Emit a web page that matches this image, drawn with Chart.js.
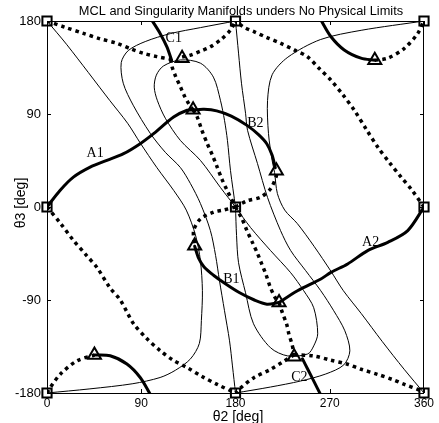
<!DOCTYPE html>
<html><head><meta charset="utf-8">
<script src="https://cdn.jsdelivr.net/npm/chart.js@4/dist/chart.umd.min.js"></script>
<style>html,body{margin:0;padding:0;background:#fff}canvas{display:block}</style>
</head><body>
<canvas id="c" width="439" height="423"></canvas>
<script>
const titleText = 'MCL and Singularity Manifolds unders No Physical Limits';
const xTitle = 'θ2 [deg]';
const yTitle = 'θ3 [deg]';
const xTicks = [0, 90, 180, 270, 360];
const yTicks = [-180, -90, 0, 90, 180];

// Marker points
const squares = [[0,180],[180,180],[360,180],[0,0],[180,0],[360,0],[0,-180],[180,-180],[360,-180]];
const triangles = [[129,144],[139.5,94],[219,35],[313,142],[141,-37.4],[221.6,-92.4],[236,-145],[45.3,-143.2]];

// Curve labels
const curveLabels = ['A1','A2','B1','B2','C1','C2'];
const labelX = [46, 309, 176, 199, 121, 241];
const labelY = [52, -34, -70, 81, 163, -165];

// Thin contour curves
const thinL1 = [[0,180],[19,157],[60,103],[77,81],[89,62],[105,38],[121,16],[133,-3],[142,-28],[146.5,-52],[148.4,-81],[147.4,-110],[145.5,-132],[137,-147],[122.6,-158],[108,-165],[82,-171],[41,-176],[0,-180]];
const thinL1b = [[360,180],[300,171],[261,162],[230,145],[215,128],[210.6,103],[211.5,71],[215,45],[217.3,33.5],[220,13],[227,-3],[239,-16],[255,-38],[271,-62],[283,-81],[300,-103],[320,-130],[341,-157],[360,-180]];
const thinL2 = [[180,180],[146.5,173.6],[117.8,167.8],[93.8,160.1],[77.6,151.4],[70.9,139.8],[72.8,119.8],[82.3,98.5],[98.6,71.3],[113,52.9],[127.3,38.3],[136.9,22.8],[146.5,3.4],[156,-22.8],[161,-47],[164.7,-71.3],[169.5,-100.4],[174.3,-129.5],[177.1,-153.8],[180,-180]];
const thinL2b = [[180,180],[182.9,148.9],[185.7,119.8],[189.6,90.7],[191.5,74.2],[201,42],[210.6,9.2],[223,-22.8],[232.7,-42.2],[247,-61.6],[261.4,-81],[273.8,-100.4],[284.4,-119.8],[289.2,-139.2],[283.4,-152.8],[266.2,-161.6],[242.2,-168.4],[213.5,-174.2],[180,-180]];
const thinL3a = [[180,0],[165.6,18.9],[146.5,45.1],[127.3,64.5],[113,85.9],[105.3,103.3],[102.4,116],[104.4,127.6],[111.1,136.4],[127.3,142.3],[146.5,139.2],[158.9,125.7],[165.6,103.3],[169.5,83.9],[172.3,64.5],[175.2,35.4],[180,0]];
const thinL3b = [[180,0],[194.4,-19.9],[213.5,-42.2],[232.7,-63.6],[245.1,-81],[254.7,-97.5],[258.5,-122.7],[254.7,-134.4],[249,-142.2],[229.8,-144.1],[213.5,-136.3],[197.2,-113],[189.6,-83],[182.9,-53.9],[181,-27.7],[180,0]];

// Thick solid curves
const thickA1 = [[0,0],[12.4,16],[25.2,28.9],[41.2,38.6],[57.2,45.1],[73.1,51.6],[89,61.3],[101.8,71],[120.9,87.1],[133.8,93.6],[139.5,94]];
const thickB2 = [[139.5,94],[150,94.5],[162,93],[176,88],[191,79],[202,70],[210,61],[215,50],[218,38]];
const thickB1 = [[141,-38],[145,-50],[150,-58],[159,-66],[170,-74],[184,-83],[198,-90],[210,-94],[221.6,-92.4]];
const thickA2 = [[221.6,-92.4],[239.2,-81.1],[261.5,-69.7],[271.1,-63.3],[287.1,-55.1],[306.2,-42.2],[325.4,-34.2],[344.5,-22.8],[360,0]];
const thickC1 = [[100,181],[108,168],[114.5,155],[119,142]];
const thickC2 = [[244,-147],[249,-157],[255,-169],[261,-181]];
const thickTR = [[261.5,181],[271,165],[283.8,152],[299.8,144],[313,142]];
const thickBL = [[98.5,-181],[89,-165],[76.3,-152],[60.3,-144],[45.3,-143.2]];

// Dotted curves
const dotA = [[0,180],[17,174],[34.8,168],[50,163],[66.8,158.4],[80,153],[92.2,148.7],[105,145.5],[118,143]];
const dotB = [[129,145],[137,147],[147,151],[156,155],[166,162],[175,171],[180,180]];
const dotC = [[118,143],[119.4,135.7],[123,126],[127.4,116.3],[131,108],[135.3,100],[139.5,94]];
const dotD = [[139.5,94],[143.4,87.2],[148,74],[153,61.4],[158,50],[162.5,38.6],[167,27],[172,16],[176,8],[180,0]];
const dotE = [[180,0],[186,-11],[191,-23],[196,-34],[201,-45],[205,-55],[209,-65],[213,-77],[218,-88],[221.6,-92.4]];
const dotF = [[221.6,-92.4],[224,-100],[229,-114],[231,-123],[234,-133],[236,-143]];
const dotG = [[236,-143],[225,-150],[213.6,-157.1],[197.6,-165.2],[184.9,-175],[180,-180]];
const dotH = [[236,-143],[255,-144.2],[270,-148],[287.1,-152.2],[300,-157],[315.8,-162],[330,-167],[341.3,-171.7],[355,-177],[360,-180]];
const dotI = [[0,0],[13,-16],[25,-32],[37,-46],[48,-59],[60,-78],[70,-90],[82.7,-113],[95,-127],[108,-139],[120,-148],[134,-155.5],[148,-164],[162.5,-171.7],[180,-180]];
const dotJ = [[360,0],[348,17],[338.1,28.9],[327,43],[315.8,58],[305,75],[293.4,93.7],[283,108],[271.1,122.8],[260,134],[248.7,145.4],[236,152],[223.2,158.4],[210,164],[197.6,169.7],[188,174],[180,180]];
const dotK = [[180,0],[191,6],[204,9.5],[213.5,17.7],[219,30],[219,35]];
const dotL = [[180,0],[168,-3],[159,-5],[146.5,-11.5],[140,-23],[141,-37]];
const dotM = [[0,-180],[2.9,-175],[12.5,-162],[28.4,-149],[45.3,-143.2]];
const dotN = [[313,142],[325.4,144],[341.3,153.6],[354,168],[360,180]];

const thinCurves = [thinL1, thinL1b, thinL2, thinL2b, thinL3a, thinL3b];
const thickCurves = [thickA1, thickB2, thickB1, thickA2, thickC1, thickC2, thickTR, thickBL];
const dotCurves = [dotA, dotB, dotC, dotD, dotE, dotF, dotG, dotH, dotI, dotJ, dotK, dotL, dotM, dotN];

const toXY = arr => arr.map(p => ({x: p[0], y: p[1]}));
function lineDs(arr, width, dash) {
  return {data: toXY(arr), showLine: true, pointRadius: 0, pointHoverRadius: 0,
    borderColor: '#000', borderWidth: width, borderDash: dash || [], borderCapStyle: dash ? 'butt' : 'round',
    borderJoinStyle: 'round', tension: 0.3, fill: false};
}
const datasets = [];
thinCurves.forEach(c => datasets.push(lineDs(c, 1)));
dotCurves.forEach(c => datasets.push(lineDs(c, 3.5, [3.5, 4])));
thickCurves.forEach(c => datasets.push(lineDs(c, 3)));
datasets.push({data: toXY(squares), showLine: false, pointStyle: 'rect', pointRadius: 6.5, clip: false,
  borderColor: '#000', borderWidth: 2, backgroundColor: 'rgba(0,0,0,0)'});
datasets.push({data: toXY(triangles), showLine: false, pointStyle: 'triangle', pointRadius: 7.5, clip: false,
  borderColor: '#000', borderWidth: 2, backgroundColor: 'rgba(0,0,0,0)'});

const decor = {
  id: 'decor',
  beforeDatasetsDraw(chart) {
    const ctx = chart.ctx, a = chart.chartArea, xs = chart.scales.x, ys = chart.scales.y;
    ctx.save();
    ctx.strokeStyle = '#000'; ctx.lineWidth = 1;
    ctx.strokeRect(a.left + 0.5, a.top + 0.5, a.right - a.left - 1, a.bottom - a.top);
    ctx.beginPath();
    xTicks.forEach(v => { const px = Math.round(xs.getPixelForValue(v)) + 0.5;
      ctx.moveTo(px, a.bottom); ctx.lineTo(px, a.bottom - 4);
      ctx.moveTo(px, a.top); ctx.lineTo(px, a.top + 4); });
    yTicks.forEach(v => { const py = Math.round(ys.getPixelForValue(v)) + 0.5;
      ctx.moveTo(a.left, py); ctx.lineTo(a.left + 4, py);
      ctx.moveTo(a.right, py); ctx.lineTo(a.right - 4, py); });
    ctx.stroke();
    ctx.restore();
  },
  afterDatasetsDraw(chart) {
    const ctx = chart.ctx, xs = chart.scales.x, ys = chart.scales.y;
    ctx.save();
    ctx.fillStyle = '#000';
    ctx.font = '14px "Liberation Serif"';
    ctx.textAlign = 'center'; ctx.textBaseline = 'middle';
    curveLabels.forEach((t, i) => ctx.fillText(t, xs.getPixelForValue(labelX[i]), ys.getPixelForValue(labelY[i])));
    ctx.restore();
  },
  afterDraw(chart) {
    const ctx = chart.ctx;
    ctx.save();
    ctx.fillStyle = '#000';
    ctx.textAlign = 'center'; ctx.textBaseline = 'middle';
    ctx.font = '12.8px "Liberation Sans"';
    ctx.fillText(titleText, 241, 11);
    ctx.font = '14px "Liberation Sans"';
    ctx.fillText(xTitle, 238, 417);
    ctx.translate(21, 203);
    ctx.rotate(-Math.PI / 2);
    ctx.fillText(yTitle, 0, 0);
    ctx.restore();
  }
};

new Chart(document.getElementById('c'), {
  type: 'scatter',
  data: {datasets},
  options: {
    responsive: false, animation: false, events: [],
    layout: {padding: {top: 21, right: 15, left: 0, bottom: 0}},
    plugins: {legend: {display: false}, tooltip: {enabled: false}, title: {display: false}},
    scales: {
      x: {type: 'linear', min: 0, max: 360, afterBuildTicks: s => { s.ticks = xTicks.map(v => ({value: v})); },
        grid: {display: false, drawTicks: false}, border: {display: false},
        ticks: {color: '#000', font: {family: 'Liberation Sans', size: 12}, padding: 3, maxRotation: 0, autoSkip: false},
        afterFit: s => { s.height = 30; }},
      y: {type: 'linear', min: -180, max: 180, afterBuildTicks: s => { s.ticks = yTicks.map(v => ({value: v})); },
        grid: {display: false, drawTicks: false}, border: {display: false},
        ticks: {color: '#000', font: {family: 'Liberation Sans', size: 13}, padding: 6, autoSkip: false},
        afterFit: s => { s.width = 47; }}
    }
  },
  plugins: [decor]
});
</script>
</body></html>
